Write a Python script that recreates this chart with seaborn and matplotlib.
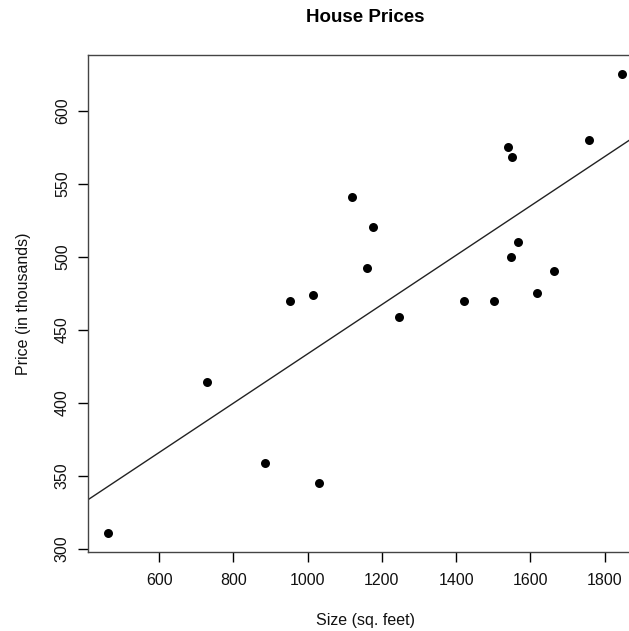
import pandas as pd
import matplotlib
matplotlib.use("Agg")
import matplotlib.pyplot as plt
import seaborn as sns

# ---------------- DATA ----------------
size_sqft = [463, 729, 886, 953, 1015, 1031, 1120, 1161, 1177, 1245,
             1420, 1501, 1541, 1547, 1552, 1568, 1617, 1665, 1757, 1846]
price_k = [311, 414, 359, 470, 474, 345, 541, 492, 520, 459,
           470, 470, 575, 500, 568, 510, 475, 490, 580, 625]
x_ticks = [600, 800, 1000, 1200, 1400, 1600, 1800]
y_ticks = [300, 350, 400, 450, 500, 550, 600]

df = pd.DataFrame({"size": size_sqft, "price": price_k})

# ---------------- STYLE ----------------
sns.set_style("ticks")
plt.rcParams["font.family"] = ["Liberation Sans", "DejaVu Sans"]

fig = plt.figure(figsize=(6.29, 6.31), dpi=100)
W, H = 629, 631
# right side of the box runs off the canvas, as in the reference
ax = fig.add_axes([88 / W, (H - 552) / H, 554 / W, 497 / H])

ax.set_xlim(408, 1901)
ax.set_ylim(298, 638)

sns.regplot(data=df, x="size", y="price", ax=ax, ci=None, truncate=False,
            scatter_kws={"color": "black", "s": 42, "linewidths": 0, "alpha": 1},
            line_kws={"color": "#222222", "linewidth": 1.0})

ax.set_xticks(x_ticks)
ax.set_yticks(y_ticks)
ax.tick_params(axis="both", direction="out", length=7, width=1,
               labelsize=11.5, colors="black", labelcolor="#111111")
plt.setp(ax.get_yticklabels(), rotation=90, va="center")
ax.tick_params(axis="x", pad=8)
ax.tick_params(axis="y", pad=6)
for s in ax.spines.values():
    s.set_linewidth(1.0)
    s.set_color("#444444")

ax.set_xlabel("Size (sq. feet)", fontsize=11.5, color="#111111", labelpad=18)
ax.set_ylabel("Price (in thousands)", fontsize=11.5, color="#111111", labelpad=17)
fig.text(365 / W, 1 - 18 / H, "House Prices", fontsize=13.5, fontweight="bold",
         ha="center", va="center", color="black")

fig.savefig("out.png", dpi=100)
